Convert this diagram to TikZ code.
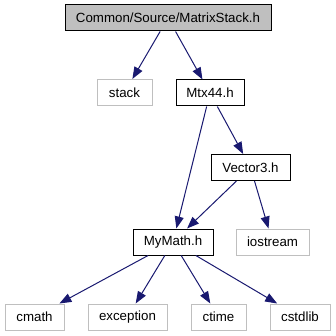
\documentclass[tikz,border=0pt]{standalone}
\usepackage{fontspec}
\usepackage{xcolor}
\usepackage{tikz}
\usetikzlibrary{arrows.meta}
\setmainfont{Liberation Sans}
\definecolor{edgeblue}{RGB}{25, 25, 112}
\definecolor{sysgray}{RGB}{191, 191, 191}

\begin{document}
\begin{tikzpicture}[x=1pt, y=-1pt,
    filebox/.style={draw=black, line width=1pt, fill=white, minimum height=26pt, inner sep=0pt, font=\fontsize{13.3}{15}\selectfont},
    sysbox/.style={filebox, draw=sysgray},
    rootbox/.style={filebox, fill=sysgray},
    dep/.style={draw=edgeblue, line width=1pt, -{Triangle[length=12pt, width=9pt]}}]
          \useasboundingbox (0,0) rectangle (335,336);
          \node[rootbox, minimum width=206pt] (root) at (168,18) {Common/Source/MatrixStack.h};
          \node[sysbox, minimum width=55pt] (stack) at (124.5,92.5) {stack};
          \node[filebox, minimum width=68pt] (mtx) at (210,93) {Mtx44.h};
          \node[filebox, minimum width=79pt] (vec) at (250.5,167.5) {Vector3.h};
          \node[filebox, minimum width=80pt] (math) at (173,242) {MyMath.h};
          \node[sysbox, minimum width=73pt] (iostream) at (272.5,242) {iostream};
          \node[sysbox, minimum width=59pt] (cmath) at (34.5,317) {cmath};
          \node[sysbox, minimum width=79pt] (exception) at (127.5,317) {exception};
          \node[sysbox, minimum width=55pt] (ctime) at (218.5,317) {ctime};
          \node[sysbox, minimum width=60pt] (cstdlib) at (300,317) {cstdlib};
          \draw[dep] (root) -- (stack);
          \draw[dep] (root) -- (mtx);
          \draw[dep] (mtx) -- (math);
          \draw[dep] (mtx) -- (vec);
          \draw[dep] (vec) -- (math);
          \draw[dep] (vec) -- (iostream);
          \draw[dep] (math) -- (cmath);
          \draw[dep] (math) -- (exception);
          \draw[dep] (math) -- (ctime);
          \draw[dep] (math) -- (cstdlib);
        \end{tikzpicture}
\end{document}
